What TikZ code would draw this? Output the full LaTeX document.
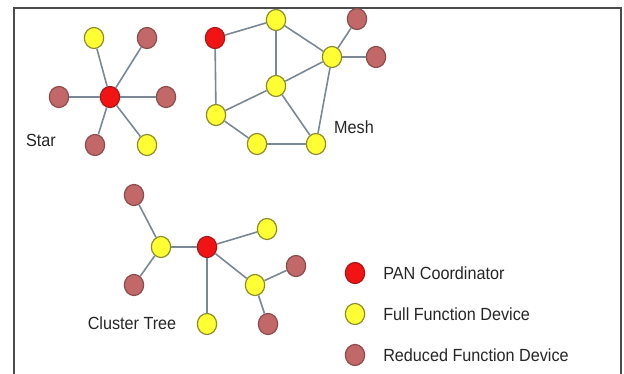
\documentclass[tikz,border=0pt]{standalone}
\usepackage{fontspec}
\setmainfont{Liberation Sans}
\usetikzlibrary{shapes.geometric}
\definecolor{pancol}{HTML}{F21414}
\definecolor{panedge}{HTML}{A81818}
\definecolor{ffdcol}{HTML}{FFFF33}
\definecolor{ffdedge}{HTML}{8C8C2A}
\definecolor{rfdcol}{HTML}{C26868}
\definecolor{rfdedge}{HTML}{8A4C4C}
\definecolor{linkcol}{HTML}{7A8896}
\definecolor{labelcol}{HTML}{262626}
% slightly condensed label text
\newcommand{\condensed}[1]{\scalebox{0.92}[1]{#1}}
\tikzset{
  dev/.style={ellipse, minimum width=14.5pt, minimum height=15.8pt, inner sep=0pt, line width=0.9pt},
  pan/.style={dev, fill=pancol, draw=panedge},
  ffd/.style={dev, fill=ffdcol, draw=ffdedge},
  rfd/.style={dev, fill=rfdcol, draw=rfdedge},
  link/.style={draw=linkcol, line width=1.2pt},
  lbl/.style={font=\fontsize{13.2pt}{15pt}\selectfont, text=labelcol, inner sep=0pt},
}
\begin{document}
\begin{tikzpicture}[x=0.75pt,y=-0.75pt]
\useasboundingbox (0,0) rectangle (624,374);
% frame, open at the bottom
\draw[draw=black!70, line width=1.5pt] (14,375) -- (14,8) -- (621,8) -- (621,375);

% star topology
\node[pan] (s0) at (110,97) {};
\node[ffd] (s1) at (94,38) {};
\node[rfd] (s2) at (147,38) {};
\node[rfd] (s3) at (59,97) {};
\node[rfd] (s4) at (166,97) {};
\node[rfd] (s5) at (95,145) {};
\node[ffd] (s6) at (147,145) {};
\foreach \n in {s1,s2,s3,s4,s5,s6} \draw[link] (s0) -- (\n);
\node[lbl] (starlbl) at (41,140) {\condensed{Star}};

% mesh topology
\node[pan] (m0) at (215,38) {};
\node[ffd] (m1) at (276,20) {};
\node[ffd] (m2) at (332,57) {};
\node[rfd] (m3) at (357,19) {};
\node[rfd] (m4) at (376,57) {};
\node[ffd] (m5) at (276,86) {};
\node[ffd] (m6) at (216,115) {};
\node[ffd] (m7) at (257,144) {};
\node[ffd] (m8) at (316,144) {};
\draw[link] (m0) -- (m1);
\draw[link] (m0) -- (m6);
\draw[link] (m1) -- (m5);
\draw[link] (m1) -- (m2);
\draw[link] (m2) -- (m3);
\draw[link] (m2) -- (m4);
\draw[link] (m2) -- (m5);
\draw[link] (m2) -- (m8);
\draw[link] (m5) -- (m6);
\draw[link] (m5) -- (m8);
\draw[link] (m6) -- (m7);
\draw[link] (m7) -- (m8);
\node[lbl] (meshlbl) at (354,127) {\condensed{Mesh}};

% cluster tree topology
\node[pan] (c0) at (207,247) {};
\node[ffd] (c1) at (161,247) {};
\node[rfd] (c2) at (134,195) {};
\node[rfd] (c3) at (134,285) {};
\node[ffd] (c4) at (267,229) {};
\node[ffd] (c5) at (255,285) {};
\node[rfd] (c6) at (296,266) {};
\node[rfd] (c7) at (268,324) {};
\node[ffd] (c8) at (207,324) {};
\draw[link] (c1) -- (c2);
\draw[link] (c1) -- (c3);
\draw[link] (c1) -- (c0);
\draw[link] (c0) -- (c4);
\draw[link] (c0) -- (c5);
\draw[link] (c0) -- (c8);
\draw[link] (c5) -- (c6);
\draw[link] (c5) -- (c7);
\node[lbl] (treelbl) at (132,323) {\condensed{Cluster Tree}};

% legend
\node[pan] (k1) at (355,273) {};
\node[ffd] (k2) at (355,314) {};
\node[rfd] (k3) at (355,355) {};
\node[lbl, anchor=west] (t1) at (383,273) {\condensed{PAN Coordinator}};
\node[lbl, anchor=west] (t2) at (383,314) {\condensed{Full Function Device}};
\node[lbl, anchor=west] (t3) at (383,355) {\condensed{Reduced Function Device}};
\end{tikzpicture}
\end{document}
